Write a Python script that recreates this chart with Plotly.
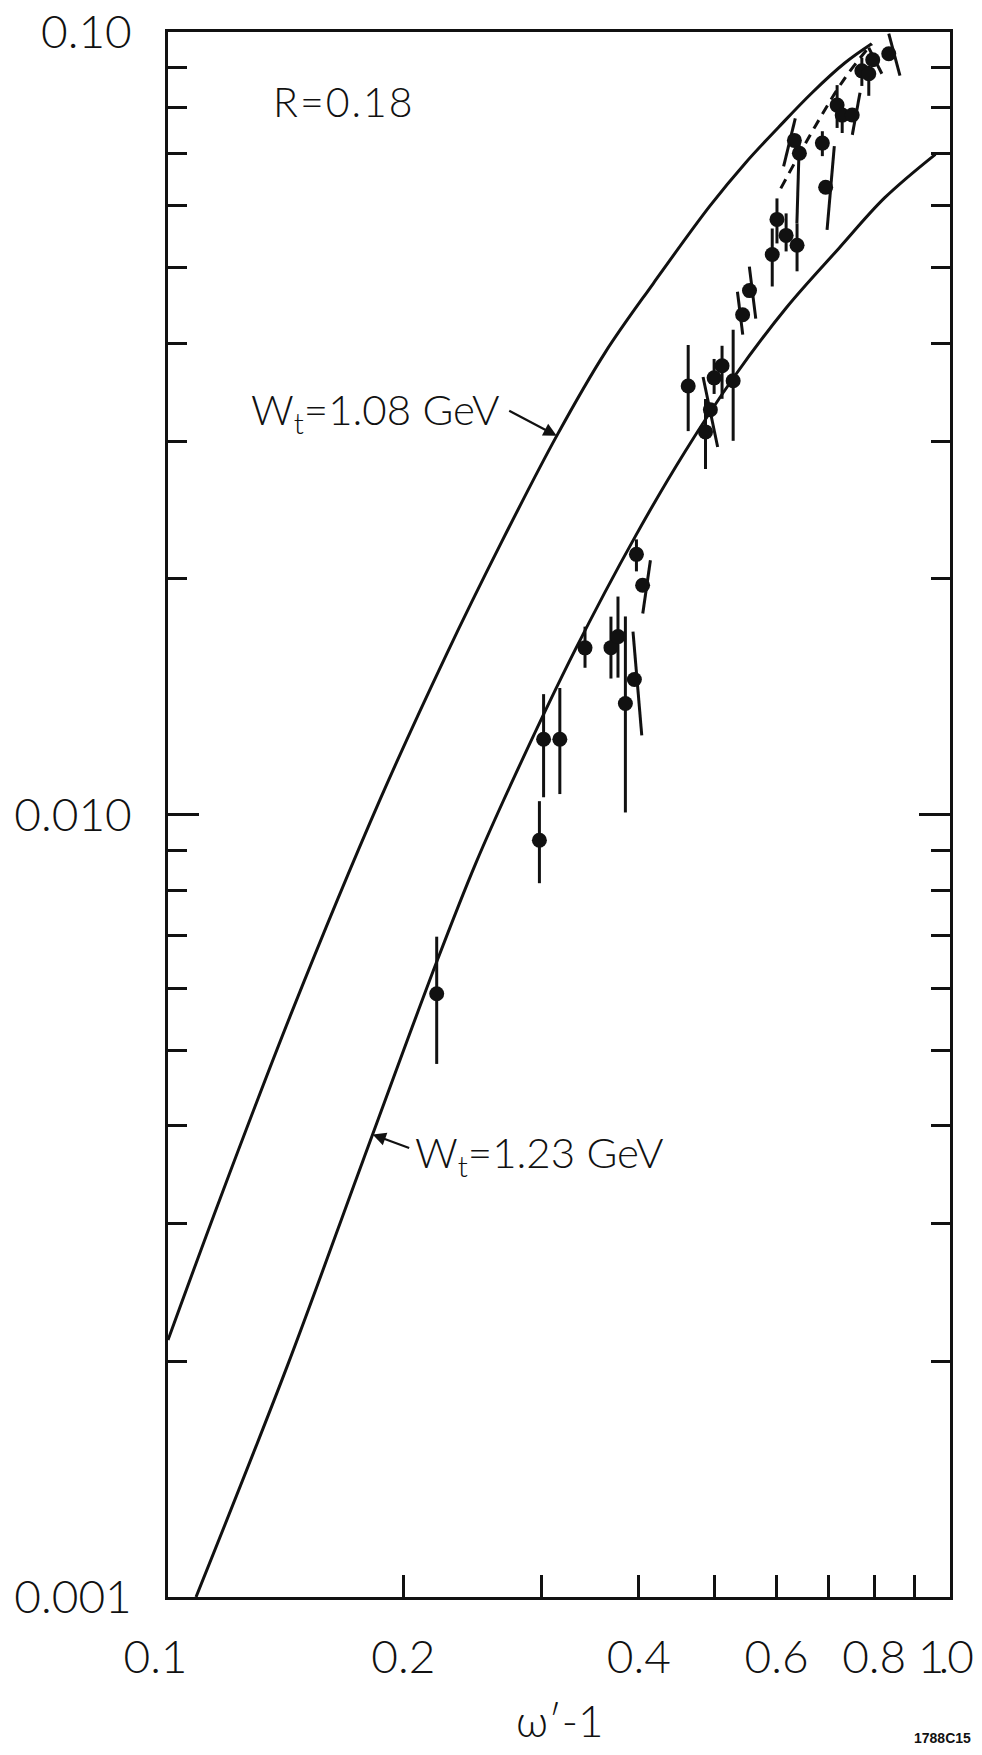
import math
import plotly.graph_objects as go

# ---------------- data ----------------
omega = [0.2206, 0.2985, 0.3022, 0.3170, 0.3414, 0.3685, 0.3762, 0.3845, 0.3948, 0.3972,
         0.4045, 0.4626, 0.4868, 0.4938, 0.4993, 0.5111, 0.5281, 0.5430, 0.5541, 0.5925,
         0.6008, 0.6172, 0.6374, 0.6934, 0.6324, 0.6418, 0.6867, 0.7172, 0.7280, 0.7498,
         0.7714, 0.7873, 0.7965, 0.8350]
ratio = [0.00590, 0.00927, 0.01248, 0.01248, 0.01633, 0.01634, 0.01688, 0.01386, 0.01488, 0.02150,
         0.01963, 0.03528, 0.03083, 0.03290, 0.03614, 0.03745, 0.03583, 0.04352, 0.04672, 0.05195,
         0.05761, 0.05496, 0.05339, 0.06332, 0.07269, 0.06998, 0.07211, 0.08065, 0.07831, 0.07833,
         0.08920, 0.08843, 0.09215, 0.09382]
err_top_x = [0.2206, 0.2985, 0.3022, 0.3170, 0.3414, 0.3685, 0.3762, 0.3845, 0.3932, 0.3972,
             0.4139, 0.4626, 0.4868, 0.4833, 0.4993, 0.5111, 0.5281, 0.5348, 0.5539, 0.5925,
             0.6008, 0.6172, 0.6374, 0.7113, 0.6341, 0.6418, 0.6867, 0.7172, 0.7280, 0.7672,
             0.7714, 0.7873, 0.7871, 0.8350]
err_top_y = [0.00698, 0.01040, 0.01425, 0.01451, 0.01738, 0.01790, 0.01899, 0.01791, 0.01713, 0.02247,
             0.02113, 0.03981, 0.03396, 0.03623, 0.03821, 0.03972, 0.04164, 0.04657, 0.05013, 0.05609,
             0.06128, 0.05864, 0.05695, 0.07148, 0.07757, 0.07313, 0.07468, 0.08553, 0.08113, 0.08362,
             0.09268, 0.09052, 0.09546, 0.09950]
err_bot_x = [0.2206, 0.2985, 0.3022, 0.3170, 0.3414, 0.3685, 0.3762, 0.3845, 0.4035, 0.3972,
             0.4047, 0.4626, 0.4868, 0.5045, 0.4993, 0.5111, 0.5281, 0.5432, 0.5644, 0.5925,
             0.6008, 0.6172, 0.6374, 0.6963, 0.6127, 0.6371, 0.6867, 0.7172, 0.7280, 0.7500,
             0.7714, 0.7873, 0.8182, 0.8630]
err_bot_y = [0.00480, 0.00817, 0.01052, 0.01062, 0.01540, 0.01492, 0.01496, 0.01006, 0.01262, 0.02045,
             0.01807, 0.03090, 0.02764, 0.02949, 0.03447, 0.03398, 0.03003, 0.04104, 0.04302, 0.04729,
             0.05368, 0.05243, 0.04945, 0.05585, 0.06735, 0.05695, 0.06940, 0.07540, 0.07429, 0.07388,
             0.08532, 0.08288, 0.08843, 0.08794]

# theory curves
w108_x = [0.1000, 0.1166, 0.1440, 0.1868, 0.2269, 0.2669, 0.3141, 0.3622, 0.4176, 0.4932,
          0.5479, 0.6033, 0.6662, 0.7335, 0.7941]
w108_y = [0.002130, 0.003231, 0.005594, 0.01046, 0.01600, 0.02227, 0.03047, 0.03893, 0.04774, 0.05995,
          0.06808, 0.07551, 0.08364, 0.09128, 0.09659]
w123_x = [0.1086, 0.1421, 0.1774, 0.2203, 0.2474, 0.2778, 0.3316, 0.3959, 0.4578, 0.5297,
          0.6180, 0.7217, 0.8253, 0.9579]
w123_y = [0.001000, 0.001974, 0.003603, 0.006460, 0.008656, 0.01122, 0.01623, 0.02267, 0.02904, 0.03626,
          0.04446, 0.05297, 0.06141, 0.06977]
dash_x = [0.6076, 0.6725, 0.7339, 0.7941]
dash_y = [0.06312, 0.07579, 0.08733, 0.09659]

NB = "\u00a0"
x_tickvals = [0.1, 0.2, 0.4, 0.6, 0.8, 1.0]
x_ticktext = ["0.1" + NB * 2, "0.2", "0.4", "0.6", "0.8",
              "<span style='letter-spacing:-6px'>1</span><span style='letter-spacing:-2px'>.</span>0"
              "<span style='font-size:30px'>" + NB + "</span>"]
x_minor = [0.3, 0.5, 0.7, 0.9]
y_tickvals = [0.001, 0.01, 0.1]
y_ticktext = ["0.001", "0.010", "0.10"]
y_minor = [0.002, 0.003, 0.004, 0.005, 0.006, 0.007, 0.008, 0.009,
           0.02, 0.03, 0.04, 0.05, 0.06, 0.07, 0.08, 0.09]

FONT = "Lato"
INK = "#111111"
TW = 300  # light lettering weight

fig = go.Figure()

# curves
fig.add_trace(go.Scatter(x=w108_x, y=w108_y, mode="lines",
                         line=dict(color=INK, width=3, shape="spline", smoothing=1.0),
                         showlegend=False, hoverinfo="skip"))
fig.add_trace(go.Scatter(x=w123_x, y=w123_y, mode="lines",
                         line=dict(color=INK, width=3, shape="spline", smoothing=1.0),
                         showlegend=False, hoverinfo="skip"))
fig.add_trace(go.Scatter(x=dash_x, y=dash_y, mode="lines",
                         line=dict(color=INK, width=3, dash="10px,7px", shape="spline"),
                         showlegend=False, hoverinfo="skip"))

# error bars (segments, some slanted)
ex, ey = [], []
for xt, yt, xb, yb in zip(err_top_x, err_top_y, err_bot_x, err_bot_y):
    ex += [xt, xb, None]
    ey += [yt, yb, None]
fig.add_trace(go.Scatter(x=ex, y=ey, mode="lines", line=dict(color=INK, width=3),
                         showlegend=False, hoverinfo="skip"))

# data points
fig.add_trace(go.Scatter(x=omega, y=ratio, mode="markers",
                         marker=dict(color=INK, size=15, line=dict(width=0)),
                         showlegend=False))

lg = math.log10
ann = [
    dict(x=lg(0.168), y=lg(0.0815), xref="x", yref="y",
         text="<span style='letter-spacing:2px'>R=0.18</span>", showarrow=False,
         font=dict(family=FONT, size=41, color=INK, weight=TW), xanchor="center", yanchor="middle"),
    dict(x=lg(0.2671), y=lg(0.03265), xref="x", yref="y", text="W<sub>t</sub>=1.08 GeV",
         showarrow=False, font=dict(family=FONT, size=42, color=INK, weight=TW),
         xanchor="right", yanchor="middle"),
    dict(x=lg(0.3141), y=lg(0.03047), xref="x", yref="y", text="", showarrow=True,
         ax=-49, ay=-26, arrowhead=2, arrowsize=1.2, arrowwidth=2.2, arrowcolor=INK, standoff=0),
    dict(x=lg(0.2056), y=lg(0.003672), xref="x", yref="y", text="W<sub>t</sub>=1.23 GeV",
         showarrow=False, font=dict(family=FONT, size=42, color=INK, weight=TW),
         xanchor="left", yanchor="middle"),
    dict(x=lg(0.1827), y=lg(0.0039), xref="x", yref="y", text="", showarrow=True,
         ax=38, ay=14, arrowhead=2, arrowsize=1.2, arrowwidth=2.2, arrowcolor=INK, standoff=0),
    dict(x=0.501, y=-0.0786, xref="paper", yref="paper", text="ω′-1", showarrow=False,
         font=dict(family=FONT, size=44, color=INK, weight=TW), xanchor="center", yanchor="middle"),
    dict(x=1.0294, y=-0.0901, xref="paper", yref="paper", text="<b>1788C15</b>", showarrow=False,
         font=dict(family="Liberation Sans Narrow, Liberation Sans", size=14, color=INK),
         xanchor="right", yanchor="middle"),
]

# the page body adds an 8px margin: the figure is sized so the plot frame lands
# at the reference position inside the 982x1755 window
fig.update_layout(
    width=966, height=1739,
    margin=dict(l=160, r=24, t=24, b=150, pad=0, autoexpand=False),
    paper_bgcolor="white", plot_bgcolor="white",
    annotations=ann,
    showlegend=False,
)
fig.update_xaxes(
    type="log", range=[-1, 0], showgrid=False, zeroline=False, automargin=False,
    showline=True, linecolor=INK, linewidth=3, mirror=True, tickangle=0,
    ticks="inside", ticklen=22, tickwidth=3, tickcolor=INK,
    tickvals=x_tickvals, ticktext=x_ticktext, ticklabeloverflow="allow",
    tickfont=dict(family=FONT, size=46, color=INK, weight=TW), ticklabelstandoff=18,
    minor=dict(tickvals=x_minor, ticks="inside", ticklen=22, tickwidth=3, tickcolor=INK, showgrid=False),
)
fig.update_yaxes(
    type="log", range=[-3, -1], showgrid=False, zeroline=False, automargin=False,
    showline=True, linecolor=INK, linewidth=3, mirror="ticks", tickangle=0,
    ticks="inside", ticklen=31, tickwidth=3, tickcolor=INK,
    tickvals=y_tickvals, ticktext=y_ticktext, ticklabeloverflow="allow",
    tickfont=dict(family=FONT, size=46, color=INK, weight=TW), ticklabelstandoff=24,
    minor=dict(tickvals=y_minor, ticks="inside", ticklen=19, tickwidth=3, tickcolor=INK, showgrid=False),
)

fig.write_html("out.html")
